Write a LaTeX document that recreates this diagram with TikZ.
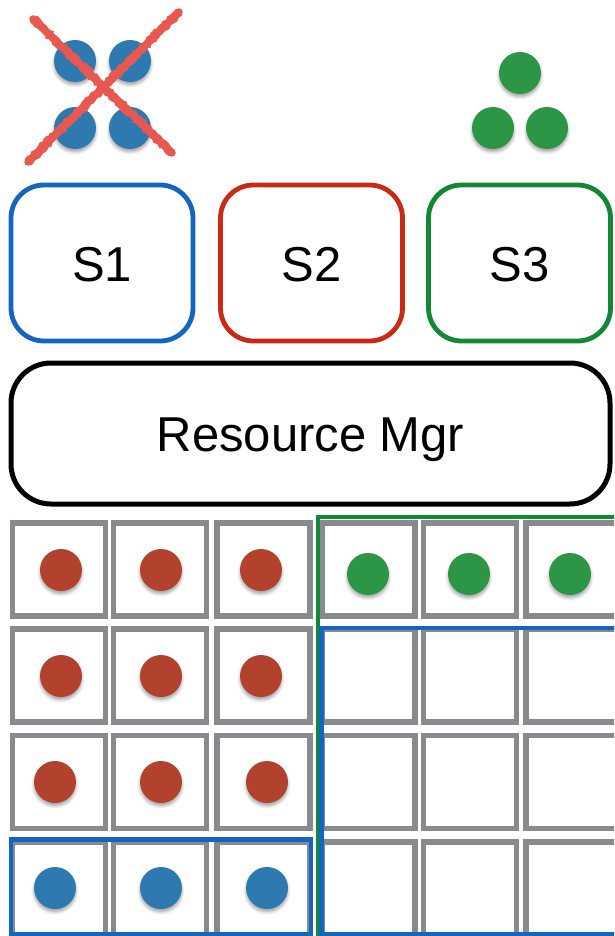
\documentclass[tikz,border=0pt]{standalone}
\usepackage{fontspec}
\setmainfont{Liberation Sans}
\usetikzlibrary{shadows.blur,decorations.pathmorphing}

\definecolor{sblue}{RGB}{18,102,192}
\definecolor{sred}{RGB}{200,42,20}
\definecolor{sgreen}{RGB}{18,136,52}
\definecolor{dotblue}{RGB}{46,122,176}
\definecolor{dotred}{RGB}{178,66,46}
\definecolor{dotgreen}{RGB}{44,150,70}
\definecolor{crossred}{RGB}{232,88,80}
\definecolor{cellgray}{RGB}{136,138,142}

\tikzset{
  sched/.style={draw=#1, line width=4.8pt, rounded corners=33pt,
    minimum width=182pt, minimum height=156pt, inner sep=0pt,
    font=\fontsize{49}{49}\selectfont, text height=36pt, text depth=0pt},
  mgr/.style={draw=black, line width=5pt, rounded corners=40pt,
    minimum width=599pt, minimum height=141pt, inner sep=0pt,
    font=\fontsize{49}{49}\selectfont, text height=36pt, text depth=0pt},
  cell/.style={draw=cellgray, line width=5.6pt, minimum size=93pt, inner sep=0pt},
  dot/.style={circle, fill=#1, minimum size=42pt, inner sep=0pt,
    blur shadow={shadow xshift=0pt, shadow yshift=-3pt,
      shadow blur radius=3pt, shadow opacity=35}},
  region/.style={draw=#1, line width=4.6pt},
  cross/.style={crossred, line width=7.5pt, line cap=round},
  crossedge/.style={crossred, line width=1.6pt, line cap=round,
    decorate, decoration={random steps, segment length=2.5pt, amplitude=1.2pt}}
}

\begin{document}
\begin{tikzpicture}[x=1pt, y=-1pt]
  \useasboundingbox (0,0) rectangle (614,936);
  \clip (0,0) rectangle (614,936);

  % scheduler S1: its four tasks, struck out
  \node[dot=dotblue] (t1) at (75,61) {};
  \node[dot=dotblue] (t2) at (130,61) {};
  \node[dot=dotblue] (t3) at (75,128) {};
  \node[dot=dotblue] (t4) at (130,128) {};
  \coordinate (xa1) at (33,19);
  \coordinate (xa2) at (172,153);
  \coordinate (xb1) at (179,12);
  \coordinate (xb2) at (28,162);
  \draw[cross] (xa1) -- (xa2);
  \draw[cross] (xb1) -- (xb2);
  \draw[crossedge] ([xshift=-2.5pt,yshift=-2.5pt]xa1) -- ([xshift=-2.5pt,yshift=-2.5pt]xa2);
  \draw[crossedge] ([xshift=2.5pt,yshift=2.5pt]xa1) -- ([xshift=2.5pt,yshift=2.5pt]xa2);
  \draw[crossedge] ([xshift=2.5pt,yshift=-2.5pt]xb1) -- ([xshift=2.5pt,yshift=-2.5pt]xb2);
  \draw[crossedge] ([xshift=-2.5pt,yshift=2.5pt]xb1) -- ([xshift=-2.5pt,yshift=2.5pt]xb2);

  % scheduler S3: its three tasks
  \node[dot=dotgreen] (g1) at (520,73) {};
  \node[dot=dotgreen] (g2) at (493,128) {};
  \node[dot=dotgreen] (g3) at (547,128) {};

  % schedulers
  \node[sched=sblue]  (s1) at (102,263) {S1};
  \node[sched=sred]   (s2) at (311.5,263) {S2};
  \node[sched=sgreen] (s3) at (519.5,263) {S3};

  % resource manager
  \node[mgr] (rm) at (310.5,433.5) {Resource Mgr};

  % cluster slots
  \foreach \r/\y in {1/569.5, 2/675.5, 3/782, 4/888.5} {
    \foreach \c/\x in {1/59, 2/160, 3/263.5, 4/368.5, 5/470, 6/572.5} {
      \node[cell] (c\r\c) at (\x,\y) {};
    }
  }

  % tasks placed in slots
  \node[dot=dotred] (r11) at (61,570) {};
  \node[dot=dotred] (r12) at (161,570) {};
  \node[dot=dotred] (r13) at (261,570) {};
  \node[dot=dotred] (r21) at (61,676) {};
  \node[dot=dotred] (r22) at (161,676) {};
  \node[dot=dotred] (r23) at (261,676) {};
  \node[dot=dotred] (r31) at (55,782) {};
  \node[dot=dotred] (r32) at (161,782) {};
  \node[dot=dotred] (r33) at (267,782) {};
  \node[dot=dotgreen] (g14) at (368,574) {};
  \node[dot=dotgreen] (g15) at (469,574) {};
  \node[dot=dotgreen] (g16) at (570,574) {};
  \node[dot=dotblue] (b41) at (55,888) {};
  \node[dot=dotblue] (b42) at (161,888) {};
  \node[dot=dotblue] (b43) at (267,888) {};

  % offers / allocations
  \draw[region=sgreen] (318,517) rectangle (660,980);
  \draw[region=sblue] (321.5,628) rectangle (660,934);
  \draw[region=sblue] (11,839.5) rectangle (311,934);
\end{tikzpicture}
\end{document}
